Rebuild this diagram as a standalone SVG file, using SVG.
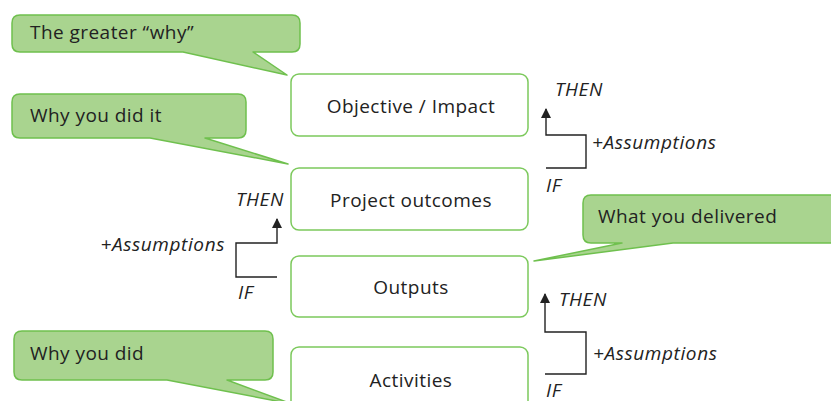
<svg xmlns="http://www.w3.org/2000/svg" width="831" height="401" viewBox="0 0 831 401">
  <style>
    .box { fill: #ffffff; stroke: #7cc95c; stroke-width: 1.5; }
    .callout { fill: #a9d48f; stroke: #6fc04e; stroke-width: 1.5; stroke-linejoin: round; }
    .label { font-family: "Open Sans", "Liberation Sans", sans-serif; font-size: 19px; letter-spacing: 0.45px; fill: #222222; }
    .note { font-family: "Open Sans", "Liberation Sans", sans-serif; font-size: 19px; letter-spacing: 0.6px; font-style: italic; fill: #222222; }
    .flow { fill: none; stroke: #222222; stroke-width: 1.4; }
  </style>
  <defs>
    <marker id="tip" viewBox="0 0 10 10" refX="9" refY="5" markerWidth="10" markerHeight="10" markerUnits="userSpaceOnUse" orient="auto">
      <path d="M0,0 L10,5 L0,10 Z" fill="#222222"/>
    </marker>
  </defs>

  <!-- callouts -->
  <g id="callout-greater-why">
    <path class="callout" d="M20,15 H292 Q300,15 300,23 V44 Q300,52 292,52 H253 L287,75 L183,52 H20 Q12,52 12,44 V23 Q12,15 20,15 Z"/>
    <text class="label" x="30" y="39">The greater “why”</text>
  </g>
  <g id="callout-why-did-it">
    <path class="callout" d="M20,94 H238 Q246,94 246,102 V130 Q246,138 238,138 H205 L288,164 L150,138 H20 Q12,138 12,130 V102 Q12,94 20,94 Z"/>
    <text class="label" x="30" y="122">Why you did it</text>
  </g>
  <g id="callout-delivered">
    <path class="callout" d="M591,195 H840 V243 H673 L534,261 L622,243 H591 Q583,243 583,235 V203 Q583,195 591,195 Z"/>
    <text class="label" x="598" y="223">What you delivered</text>
  </g>
  <g id="callout-why-did">
    <path class="callout" d="M22,331 H265 Q273,331 273,339 V372 Q273,380 265,380 H227 L292,404 L167,380 H22 Q14,380 14,372 V339 Q14,331 22,331 Z"/>
    <text class="label" x="30" y="360">Why you did</text>
  </g>

  <!-- nodes -->
  <g id="node-objective">
    <rect class="box" x="291" y="74" width="237" height="62" rx="8"/>
    <text class="label" x="411" y="113" text-anchor="middle">Objective / Impact</text>
  </g>
  <g id="node-outcomes">
    <rect class="box" x="291" y="168" width="237" height="62" rx="8"/>
    <text class="label" x="411" y="207" text-anchor="middle">Project outcomes</text>
  </g>
  <g id="node-outputs">
    <rect class="box" x="291" y="256" width="237" height="61" rx="8"/>
    <text class="label" x="411" y="294" text-anchor="middle">Outputs</text>
  </g>
  <g id="node-activities">
    <rect class="box" x="291" y="347" width="237" height="70" rx="8"/>
    <text class="label" x="411" y="387" text-anchor="middle">Activities</text>
  </g>

  <!-- connectors -->
  <g id="connectors">
    <path class="flow" d="M546,168 H586 V135 H546 V109" marker-end="url(#tip)"/>
    <path class="flow" d="M277,277 H236 V243 H277 V219" marker-end="url(#tip)"/>
    <path class="flow" d="M545,374 H586 V332 H545 V294" marker-end="url(#tip)"/>
  </g>

  <!-- connector labels -->
  <g id="labels">
    <text class="note" x="555" y="96">THEN</text>
    <text class="note" x="592" y="149">+Assumptions</text>
    <text class="note" x="546" y="192">IF</text>
    <text class="note" x="284" y="206" text-anchor="end">THEN</text>
    <text class="note" x="225" y="251" text-anchor="end">+Assumptions</text>
    <text class="note" x="238" y="299">IF</text>
    <text class="note" x="559" y="306">THEN</text>
    <text class="note" x="593" y="360">+Assumptions</text>
    <text class="note" x="546" y="397">IF</text>
  </g>
</svg>
